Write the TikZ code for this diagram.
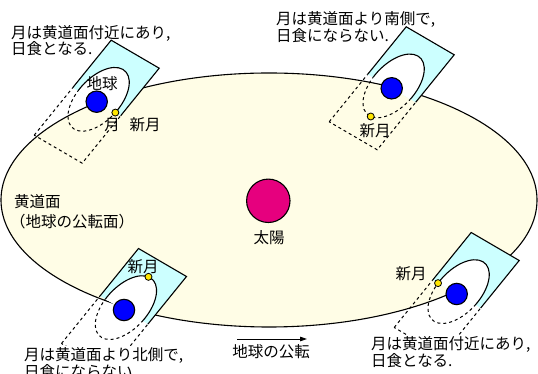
\documentclass[tikz,border=0pt]{standalone}
\usepackage{fontspec}
\newfontfamily\jpfont{Noto Sans CJK JP}
\usepackage{tikz}
\usetikzlibrary{arrows.meta}
\definecolor{eclipticfill}{RGB}{255,253,230}
\definecolor{planefill}{RGB}{204,255,255}
\definecolor{sunfill}{RGB}{230,0,126}
\definecolor{moonfill}{RGB}{255,230,0}

\begin{document}
\begin{tikzpicture}[x=1pt,y=1pt,
        jp/.style={font=\jpfont\fontsize{15.5}{16.5}\selectfont, inner sep=0pt},
        note/.style={jp, align=left, anchor=west},
        orbitplane/.style={shift={#1}, cm={38.5,47.5,24,-14,(0,0)}},
        rim/.style={line width=1.1pt},
        hidden/.style={line width=1pt, dash pattern=on 3pt off 3pt},
        earth/.style={circle, draw, line width=1.1pt, fill=blue, minimum size=21.4pt, inner sep=0pt},
        moon/.style={circle, draw, line width=0.8pt, fill=moonfill, minimum size=7pt, inner sep=0pt}]
                \useasboundingbox (0,0) rectangle (538,374);
                \filldraw[rim, fill = eclipticfill] (269,174) ellipse [x radius=268, y radius=127];

                \begin{scope}[orbitplane={(96.7,272.3)}]
                    \begin{scope}
                        \clip (-1.2,-1.2) -- (0,-1.2) -- (0,1.2) -- (-1.2,1.2) -- cycle;
                        \draw[hidden] (-1,-1) -- (1,-1) -- (1,1) -- (-1,1) -- cycle;
                        \draw[hidden] (0.05,0) ellipse [x radius=0.63, y radius=0.78];
                    \end{scope}
                    \begin{scope}
                        \clip (0,-1.2) -- (1.2,-1.2) -- (1.2,1.2) -- (0,1.2) -- cycle;
                        \filldraw[rim, fill = planefill] (-1,-1) -- (1,-1) -- (1,1) -- (-1,1) -- cycle;
                        \filldraw[rim, fill = white] (0.05,0) ellipse [x radius=0.63, y radius=0.78];
                    \end{scope}
                    \node[earth] (earthA) at (0,0) {};
                    \node[moon] (moonA) at (0,0.777) {};
                \end{scope}

                \begin{scope}[orbitplane={(391.7,285.7)}]
                    \begin{scope}
                        \clip (-1.2,-1.2) -- (0,-1.2) -- (0,1.2) -- (-1.2,1.2) -- cycle;
                        \draw[hidden] (-1,-1) -- (1,-1) -- (1,1) -- (-1,1) -- cycle;
                        \draw[hidden] (0.05,0) ellipse [x radius=0.63, y radius=0.78];
                    \end{scope}
                    \begin{scope}
                        \clip (0,-1.2) -- (1.2,-1.2) -- (1.2,1.2) -- (0,1.2) -- cycle;
                        \filldraw[rim, fill = planefill] (-1,-1) -- (1,-1) -- (1,1) -- (-1,1) -- cycle;
                        \filldraw[rim, fill = white] (0.05,0) ellipse [x radius=0.63, y radius=0.78];
                    \end{scope}
                    \node[earth] (earthB) at (0,0) {};
                    \node[moon] (moonB) at (-0.578,0.054) {};
                \end{scope}

                \begin{scope}[orbitplane={(124,64)}]
                    \begin{scope}
                        \clip (-1.2,-1.2) -- (0,-1.2) -- (0,1.2) -- (-1.2,1.2) -- cycle;
                        \draw[hidden] (-1,-1) -- (1,-1) -- (1,1) -- (-1,1) -- cycle;
                        \draw[hidden] (0.05,0) ellipse [x radius=0.63, y radius=0.78];
                    \end{scope}
                    \begin{scope}
                        \clip (0,-1.2) -- (1.2,-1.2) -- (1.2,1.2) -- (0,1.2) -- cycle;
                        \filldraw[rim, fill = planefill] (-1,-1) -- (1,-1) -- (1,1) -- (-1,1) -- cycle;
                        \filldraw[rim, fill = white] (0.05,0) ellipse [x radius=0.63, y radius=0.78];
                    \end{scope}
                    \node[earth] (earthC) at (0,0) {};
                    \node[moon] (moonC) at (0.678,-0.068) {};
                \end{scope}

                \begin{scope}[orbitplane={(456.7,80)}]
                    \begin{scope}
                        \clip (-1.2,-1.2) -- (0,-1.2) -- (0,1.2) -- (-1.2,1.2) -- cycle;
                        \draw[hidden] (-1,-1) -- (1,-1) -- (1,1) -- (-1,1) -- cycle;
                        \draw[hidden] (0.05,0) ellipse [x radius=0.63, y radius=0.78];
                    \end{scope}
                    \begin{scope}
                        \clip (0,-1.2) -- (1.2,-1.2) -- (1.2,1.2) -- (0,1.2) -- cycle;
                        \filldraw[rim, fill = planefill] (-1,-1) -- (1,-1) -- (1,1) -- (-1,1) -- cycle;
                        \filldraw[rim, fill = white] (0.05,0) ellipse [x radius=0.63, y radius=0.78];
                    \end{scope}
                    \node[earth] (earthD) at (0,0) {};
                    \node[moon] (moonD) at (0,-0.777) {};
                \end{scope}

                \node[circle, draw, line width=1.1pt, fill = sunfill, minimum size=43.4pt, inner sep=0pt] (sun) at (268.3,173.2) {};
                \node[jp] (sunname) at (269,136) {太陽};
                \node[note] (ecliptic) at (14,172) {黄道面};
                \node[note] (eclipticnote) at (10,152) {（地球の公転面）};

                \node[jp] (earthname) at (102,290) {地球};
                \node[jp] (moonname) at (112,249) {月};
                \node[jp] (newA) at (145,249) {新月};
                \node[jp] (newB) at (375,243) {新月};
                \node[jp] (newC) at (143,107) {新月};
                \node[jp] (newD) at (411,100) {新月};

                \node[note] (noteA) at (11,333.5) {月は黄道面付近にあり,\\日食となる.};
                \node[note] (noteB) at (276,346.8) {月は黄道面より南側で,\\日食にならない.};
                \node[note, fill = white, inner sep=1.5pt] (noteC) at (22.5,11) {月は黄道面より北側で,\\日食にならない};
                \node[note, fill = white, inner sep=1.5pt] (noteD) at (369.5,22) {月は黄道面付近にあり,\\日食となる.};

                \coordinate (orbitfrom) at (237,35);
                \coordinate (orbitto) at (307,35);
                \draw[line width=0.8pt, -{Triangle[length=7pt,width=4.5pt]}] (orbitfrom) -- (orbitto);
                \node[jp] (orbitname) at (271,22) {地球の公転};
\end{tikzpicture}
\end{document}
